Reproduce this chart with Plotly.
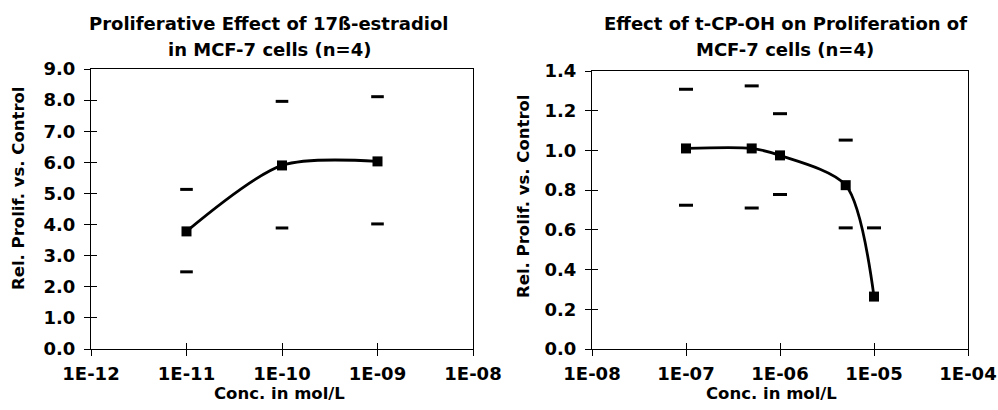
import plotly.graph_objects as go

# ---- data: left chart (17ß-estradiol) ----
e2_conc = [1e-11, 1e-10, 1e-9]
e2_mean = [3.78, 5.90, 6.03]
e2_upper = [5.13, 7.96, 8.11]
e2_lower = [2.48, 3.89, 4.02]

# ---- data: right chart (t-CP-OH) ----
cp_conc = [1e-7, 5e-7, 1e-6, 5e-6, 1e-5]
cp_mean = [1.01, 1.01, 0.975, 0.825, 0.264]
cp_upper = [1.308, 1.325, 1.185, 1.052, 0.61]
cp_lower = [0.724, 0.71, 0.778, 0.61, None]

left_xticks = [1e-12, 1e-11, 1e-10, 1e-9, 1e-8]
left_xtext = ["1E-12", "1E-11", "1E-10", "1E-09", "1E-08"]
left_yticks = [0, 1, 2, 3, 4, 5, 6, 7, 8, 9]
right_xticks = [1e-8, 1e-7, 1e-6, 1e-5, 1e-4]
right_xtext = ["1E-08", "1E-07", "1E-06", "1E-05", "1E-04"]
right_yticks = [0, 0.2, 0.4, 0.6, 0.8, 1.0, 1.2, 1.4]

FONT = "DejaVu Sans, Arial, sans-serif"
W, H = 998, 410


def fx(px):
    return px / W


def fy(py):
    return (H - py) / H


fig = go.Figure()


def add_series(conc, mean, upper, lower, xa, ya, dash_size):
    fig.add_trace(go.Scatter(
        x=conc, y=mean, xaxis=xa, yaxis=ya, mode="lines+markers",
        line=dict(color="black", width=2.8, shape="spline", smoothing=0.8),
        marker=dict(symbol="square", size=10, color="black"),
        showlegend=False, cliponaxis=False))
    for vals in (upper, lower):
        fig.add_trace(go.Scatter(
            x=conc, y=vals, xaxis=xa, yaxis=ya, mode="markers",
            marker=dict(symbol="line-ew", size=dash_size,
                        line=dict(color="black", width=3)),
            showlegend=False))


add_series(e2_conc, e2_mean, e2_upper, e2_lower, "x", "y", 9)
add_series(cp_conc, cp_mean, cp_upper, cp_lower, "x2", "y2", 10)

tickfont = dict(family=FONT, size=18, color="black", weight="bold")

common_x = dict(type="log", showgrid=False, zeroline=False, showline=True,
                linecolor="black", linewidth=1, mirror=True, ticks="outside",
                ticklen=6, tickcolor="black", tickfont=tickfont,
                automargin=False, ticklabelstandoff=2)
common_y = dict(showgrid=False, zeroline=False, showline=True,
                linecolor="black", linewidth=1, mirror=True, ticks="outside",
                ticklen=6, tickcolor="black", tickfont=tickfont,
                automargin=False, ticklabelstandoff=5)
inner = dict(ticks="inside", ticklen=6, tickcolor="black",
             showticklabels=False, showgrid=False, zeroline=False,
             showline=False, automargin=False)

yd1 = [fy(349), fy(69)]
yd2 = [fy(349), fy(71)]

fig.update_layout(
    width=W, height=H, margin=dict(l=0, r=0, t=0, b=0),
    paper_bgcolor="white", plot_bgcolor="white",
    font=dict(family=FONT, color="black"),
    xaxis=dict(common_x, domain=[fx(91), fx(473)], anchor="y",
               range=[-12, -8], tickvals=left_xticks, ticktext=left_xtext),
    yaxis=dict(common_y, domain=yd1, anchor="x", range=[0, 9],
               tickvals=left_yticks, tickformat=".1f"),
    xaxis2=dict(common_x, domain=[fx(592), fx(968)], anchor="y2",
                range=[-8, -4], tickvals=right_xticks, ticktext=right_xtext),
    yaxis2=dict(common_y, domain=yd2, anchor="x2", range=[0, 1.4],
                tickvals=right_yticks, tickformat=".1f"),
    # overlay axes for the inside half of the crossing tick marks
    xaxis3=dict(inner, type="log", overlaying="x", anchor="y", side="bottom",
                range=[-12, -8], tickvals=left_xticks),
    yaxis3=dict(inner, overlaying="y", anchor="x", side="left", range=[0, 9],
                tickvals=left_yticks),
    xaxis4=dict(inner, type="log", overlaying="x2", anchor="y2", side="bottom",
                range=[-8, -4], tickvals=right_xticks),
    yaxis4=dict(inner, overlaying="y2", anchor="x2", side="left",
                range=[0, 1.4], tickvals=right_yticks),
)

# invisible traces so the overlay axes are drawn
fig.add_trace(go.Scatter(x=[1e-10], y=[0], xaxis="x3", yaxis="y3",
                         mode="markers", marker=dict(opacity=0),
                         showlegend=False, hoverinfo="skip"))
fig.add_trace(go.Scatter(x=[1e-6], y=[0], xaxis="x4", yaxis="y4",
                         mode="markers", marker=dict(opacity=0),
                         showlegend=False, hoverinfo="skip"))

title_font = dict(family=FONT, size=18, color="black")
label_font = dict(family=FONT, size=16.5, color="black")

ann = [
    dict(text="<b>Proliferative Effect of 17ß-estradiol</b>", x=fx(269), y=fy(23)),
    dict(text="<b>in MCF-7 cells (n=4)</b>", x=fx(269), y=fy(49)),
    dict(text="<b>Effect of t-CP-OH on Proliferation of</b>", x=fx(785), y=fy(23)),
    dict(text="<b>MCF-7 cells (n=4)</b>", x=fx(785), y=fy(49)),
]
for a in ann:
    fig.add_annotation(xref="paper", yref="paper", showarrow=False,
                       xanchor="center", yanchor="middle", font=title_font, **a)

for xc in (fx(279), fx(771)):
    fig.add_annotation(text="<b>Conc. in mol/L</b>", xref="paper", yref="paper",
                       x=xc, y=fy(393), showarrow=False, xanchor="center",
                       yanchor="middle", font=label_font)
for xc, yc in ((fx(19), fy(188)), (fx(523), fy(196))):
    fig.add_annotation(text="<b>Rel. Prolif. vs. Control</b>", xref="paper",
                       yref="paper", x=xc, y=yc, textangle=-90, showarrow=False,
                       xanchor="center", yanchor="middle", font=label_font)

fig.write_html("out.html", config={"displayModeBar": False},
               post_script="document.body.style.margin='0';"
                           "document.body.style.overflow='hidden';")
